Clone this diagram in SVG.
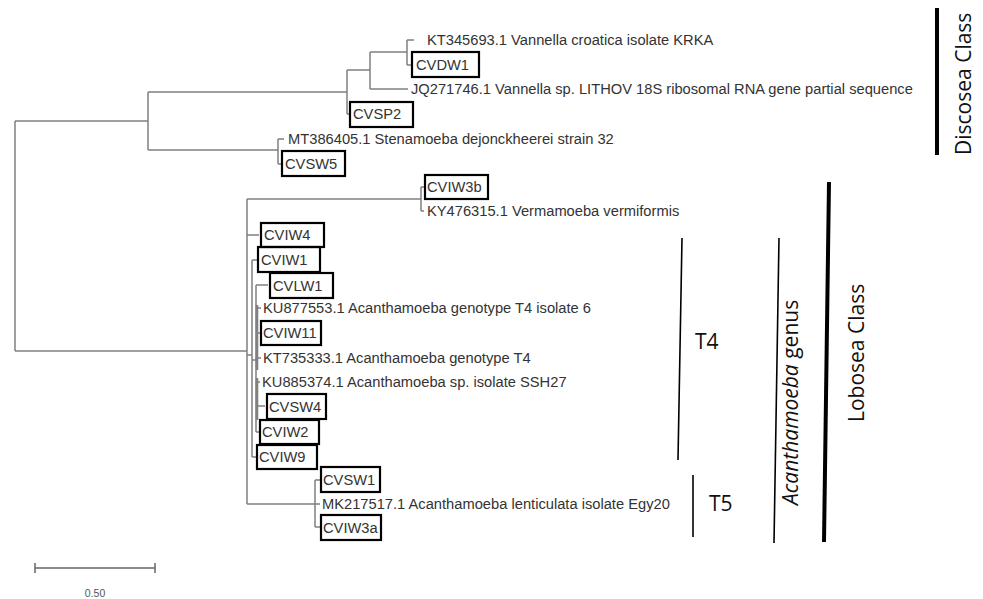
<svg xmlns="http://www.w3.org/2000/svg" width="983" height="599" viewBox="0 0 983 599">
<style>
.br{fill:none;stroke:#808080;stroke-width:1.5}
.thk{fill:none;stroke:#808080;stroke-width:2.6}
.lb{font-family:"Liberation Sans",Arial,sans-serif;font-size:14.7px;fill:#333}
.bx{fill:none;stroke:#000;stroke-width:2.2}
.cl{font-family:"Open Sans","Noto Sans",sans-serif;font-size:21px;fill:#111}
.bk{stroke:#000;fill:none}
</style>
<rect width="983" height="599" fill="#fff"/>
<g id="connectors">
<path class="br" d="M15,121V351M15,121H148M15,351H247
M148,92V150M148,92H347M148,150H278
M347,70V114M347,114H350M347,70H370
M370,52V89M370,89H408M370,52H407
M407,40V65M407,40H414M407,65H412
M278,139V164M278,139H284M278,164H282
M247,199V504M247,199H421M421,187V211M421,187H425M421,211H424
M247,235H259
M247,355H252M252,260V457M252,260H258M252,457H257
M252,360H256M256,285V432M256,285H268M256,406H265M256,432H260
M257,308H261M257,333H261M257,358H261M257,382H260
M247,504H315M315,480V527M315,480H321M315,504H320M315,527H321"/>
<path class="thk" d="M257,305V370M257,378V420"/>
</g>
<g id="KT345693"><text class="lb" x="427" y="45.3">KT345693.1 Vannella croatica isolate KRKA</text></g>
<g id="CVDW1"><rect class="bx" x="412" y="52" width="67" height="25"/><text class="lb" x="416" y="70.3">CVDW1</text></g>
<g id="JQ271746"><text class="lb" x="411" y="94.3">JQ271746.1 Vannella sp. LITHOV 18S ribosomal RNA gene partial sequence</text></g>
<g id="CVSP2"><rect class="bx" x="350" y="102" width="63" height="25"/><text class="lb" x="353" y="119.3">CVSP2</text></g>
<g id="MT386405"><text class="lb" x="288" y="144.3">MT386405.1 Stenamoeba dejonckheerei strain 32</text></g>
<g id="CVSW5"><rect class="bx" x="282" y="151" width="63" height="25"/><text class="lb" x="285" y="169.3">CVSW5</text></g>
<g id="CVIW3b"><rect class="bx" x="425" y="175" width="63" height="24"/><text class="lb" x="427" y="192.3">CVIW3b</text></g>
<g id="KY476315"><text class="lb" x="427" y="216.3">KY476315.1 Vermamoeba vermiformis</text></g>
<g id="CVIW4"><rect class="bx" x="261" y="223" width="63" height="24"/><text class="lb" x="264" y="240.3">CVIW4</text></g>
<g id="CVIW1"><rect class="bx" x="258" y="247" width="62" height="25"/><text class="lb" x="261" y="265">CVIW1</text></g>
<g id="CVLW1"><rect class="bx" x="270" y="273" width="63" height="25"/><text class="lb" x="273" y="291">CVLW1</text></g>
<g id="KU877553"><text class="lb" x="263" y="313.3">KU877553.1 Acanthamoeba genotype T4 isolate 6</text></g>
<g id="CVIW11"><rect class="bx" x="261" y="321" width="60" height="24"/><text class="lb" x="263" y="338.3">CVIW11</text></g>
<g id="KT735333"><text class="lb" x="263" y="363.3">KT735333.1 Acanthamoeba genotype T4</text></g>
<g id="KU885374"><text class="lb" x="262" y="387.3">KU885374.1 Acanthamoeba sp. isolate SSH27</text></g>
<g id="CVSW4"><rect class="bx" x="267" y="394" width="59" height="25"/><text class="lb" x="269" y="411.8">CVSW4</text></g>
<g id="CVIW2"><rect class="bx" x="260" y="420" width="59" height="24"/><text class="lb" x="262" y="437.3">CVIW2</text></g>
<g id="CVIW9"><rect class="bx" x="257" y="445" width="60" height="24"/><text class="lb" x="259" y="462.3">CVIW9</text></g>
<g id="CVSW1"><rect class="bx" x="321" y="467" width="59" height="25"/><text class="lb" x="323" y="484.8">CVSW1</text></g>
<g id="MK217517"><text class="lb" x="322" y="509.3">MK217517.1 Acanthamoeba lenticulata isolate Egy20</text></g>
<g id="CVIW3a"><rect class="bx" x="321" y="515" width="60" height="25"/><text class="lb" x="323" y="532.8">CVIW3a</text></g>
<g id="discosea"><path class="bk" stroke-width="4" d="M937,8V155"/><text class="cl" transform="translate(971,155) rotate(-90)">Discosea Class</text></g>
<g id="lobosea"><path class="bk" stroke-width="4" d="M829,182L824,542"/><text class="cl" transform="translate(864,422) rotate(-90)">Lobosea Class</text></g>
<g id="genus"><path class="bk" stroke-width="1.6" d="M779,238L774,543"/><text class="cl" transform="translate(798,505) rotate(-90)"><tspan font-style="italic">Acanthamoeba</tspan> genus</text></g>
<g id="T4"><path class="bk" stroke-width="1.6" d="M682,238L678,460"/><text class="cl" x="695" y="349">T4</text></g>
<g id="T5"><path class="bk" stroke-width="1.6" d="M693,475V537"/><text class="cl" x="709" y="511">T5</text></g>
<g id="scale"><path fill="none" stroke="#666" stroke-width="1.5" d="M35,568H155M35,563V573M155,563V573"/><text x="95" y="597" text-anchor="middle" font-family="Liberation Sans,Arial,sans-serif" font-size="10.5" fill="#555">0.50</text></g>
</svg>
